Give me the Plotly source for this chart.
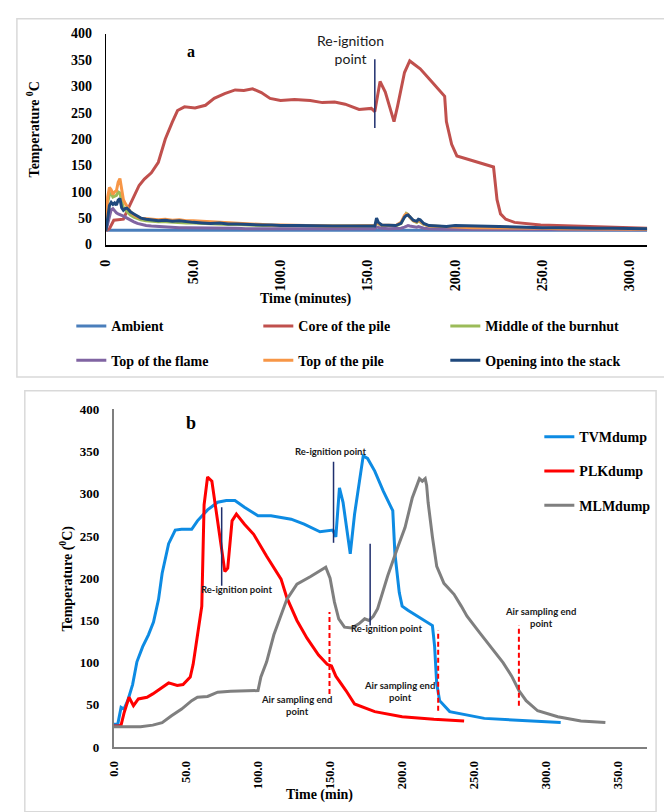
import plotly.graph_objects as go

W, H = 664, 812

# ---------------- Panel a: burn hut thermocouples ----------------
t_core = [0, 2, 4.5, 10, 13, 16, 19, 22, 26, 30, 34, 38, 41, 45, 51, 57, 62, 68, 74, 79,
          84, 89, 94, 100, 108, 117, 124, 131, 137, 145, 152, 154, 157, 160, 165, 167, 171,
          174, 180, 186, 194, 195, 198, 201, 211, 222, 224, 226, 229, 234, 249, 277, 310]
temp_core = [26, 30, 46, 48, 70, 92, 112, 124, 136, 156, 200, 232, 254, 261, 259, 264, 277,
             286, 293, 292, 295, 288, 277, 273, 275, 273, 269, 270, 266, 256, 258, 252, 309,
             289, 233, 262, 326, 348, 333, 311, 281, 233, 190, 168, 158, 147, 85, 58, 48, 42,
             37, 34, 31]

t_ambient = [0, 50, 100, 150, 200, 250, 310]
temp_ambient = [27, 27, 27, 27, 27, 27, 27]

t_sensor = [0, 1, 2, 3, 4, 5, 6, 7, 8, 9, 10, 11, 12, 13, 14,
            16, 18, 20, 23, 26, 30, 34, 38, 42, 46, 50,
            55, 60, 65, 70, 75, 80, 85, 90, 95, 100,
            110, 120, 130, 140, 150,
            153, 154, 155, 156, 158, 162, 166, 169,
            171, 172, 173, 174, 176, 178, 179, 180, 182, 185,
            190, 195, 200, 210, 220, 230, 240, 250, 260, 270, 280, 290, 300, 310]

temp_middle = [26, 80, 95, 97, 90, 92, 93, 100, 98, 82, 70, 66, 62, 60, 56,
               52, 49, 47, 45, 44, 43, 43, 42, 42, 41, 41,
               40, 39, 39, 38, 38, 37, 37, 36, 36, 35,
               35, 35, 34, 34, 34,
               34, 35, 42, 39, 36, 35, 35, 40,
               54, 59, 57, 52, 45, 42, 45, 43, 38, 35,
               34, 33, 33, 32, 32, 31, 31, 30, 30, 30, 30, 29, 29, 29]

temp_flame = [26, 40, 58, 66, 68, 63, 60, 58, 57, 55, 54, 52, 50, 48, 46,
              43, 40, 38, 36, 35, 34, 33, 33, 32, 32, 32,
              31, 31, 31, 31, 31, 30, 30, 30, 30, 30,
              30, 30, 30, 30, 30,
              30, 30, 33, 32, 31, 30, 30, 31,
              33, 35, 36, 35, 34, 33, 34, 33, 31, 30,
              29, 29, 29, 29, 29, 28, 28, 28, 28, 28, 28, 28, 28, 28]

temp_pile_top = [26, 90, 108, 104, 95, 100, 102, 118, 125, 100, 85, 78, 72, 68, 62,
                 56, 52, 50, 49, 48, 47, 48, 46, 47, 45, 45,
                 44, 43, 42, 41, 40, 40, 39, 38, 37, 37,
                 36, 36, 35, 35, 35,
                 35, 36, 44, 40, 37, 36, 36, 42,
                 55, 58, 57, 52, 45, 43, 46, 44, 39, 35,
                 34, 33, 33, 32, 32, 31, 31, 31, 30, 30, 30, 30, 29, 29]

temp_stack = [26, 55, 74, 80, 76, 79, 75, 84, 87, 70, 65, 68, 69, 66, 62,
              58, 54, 50, 48, 47, 45, 46, 44, 45, 43, 42,
              41, 40, 41, 39, 39, 38, 38, 37, 37, 36,
              36, 35, 35, 35, 34,
              34, 35, 50, 42, 37, 36, 36, 40,
              52, 55, 56, 53, 46, 44, 48, 47, 40, 36,
              35, 34, 36, 35, 34, 33, 33, 32, 32, 31, 31, 31, 30, 30]

reignition_a = 154          # minutes
x_ticks_a = [0, 50, 100, 150, 200, 250, 300]
x_ticktext_a = ["0", "50.0", "100.0", "150.0", "200.0", "250.0", "300.0"]

# ---------------- Panel b: three dump sites ----------------
t_tvm = [0, 2.7, 5, 7, 9.6, 13, 16, 20, 24, 27.5, 31, 33.5, 38, 42.6, 47, 54, 58, 65, 72,
         78, 84, 90.6, 100, 109, 123, 132, 143, 152, 154, 156.5, 159, 164, 167, 173, 176,
         181, 187, 193.5, 195, 198, 200, 204, 221, 222.5, 224, 226, 233, 257, 310]
temp_tvm = [27, 27, 47, 45, 55, 74, 101, 119, 133, 148, 175, 206, 241, 257, 258, 258, 268,
            281, 290, 292, 292, 284, 274, 274, 270, 264, 255, 257, 249, 307, 290, 229, 276,
            345, 342, 327, 303, 280, 229, 183, 167, 162, 144, 120, 75, 55, 42, 34, 29]

t_plk = [0, 3.4, 5, 7, 10.5, 13.6, 17, 23, 27, 33.4, 38, 44, 48, 53, 55, 57, 58, 61, 62.6,
         65, 68, 71, 74.6, 77, 79, 82, 85, 90.6, 97, 106, 116, 120, 127, 134, 142, 148, 151,
         154, 161, 167, 181, 200, 222, 243]
temp_plk = [25, 25, 26, 40, 59, 49, 57, 59, 63, 71, 76, 73, 74, 83, 98, 121, 133, 167, 287,
            320, 315, 280, 234, 208, 212, 268, 276, 264, 252, 226, 199, 177, 150, 129, 109,
            98, 96, 84, 67, 51, 42, 36, 33, 31]

t_mlm = [0, 18.5, 27, 33.5, 40, 47, 54, 58, 65, 72, 81, 93, 100, 102, 106, 111, 116, 120,
         127, 136.5, 147, 150, 153, 156, 160, 165, 170, 174, 177, 180, 183, 186, 190, 197,
         202, 207, 210, 212, 214, 216, 217, 218, 221, 224, 229, 236, 241, 245, 254, 264,
         270, 276, 281, 286, 294, 308, 324, 341]
temp_mlm = [24, 24, 26, 29, 37, 45, 55, 59, 60, 65, 66, 67, 67, 83, 101, 133, 156, 175,
            193, 202, 213, 200, 172, 152, 142, 141, 146, 152, 150, 155, 164, 180, 203, 237,
            260, 295, 308, 318, 315, 318, 310, 290, 249, 214, 194, 181, 167, 155, 135, 113,
            100, 84, 67, 55, 43, 36, 31, 29]

# re-ignition markers: (time, lower temp, upper temp)
reignition_b = [(74.8, 191, 284), (152.4, 242, 338), (177.8, 144, 241)]
reignition_b_labels = [(85, 187), (150, 350), (189, 140)]
# end of air sampling: (time, lower temp, upper temp)
sampling_end_b = [(149.6, 63, 160), (225, 43, 138), (281, 49, 144)]
sampling_end_labels = [(127, 49), (198, 66), (296, 153)]

x_ticks_b = [0, 50, 100, 150, 200, 250, 300, 350]
x_ticktext_b = ["0.0", "50.0", "100.0", "150.0", "200.0", "250.0", "300.0", "350.0"]
y_ticks = [0, 50, 100, 150, 200, 250, 300, 350, 400]


def px(xp):
    return xp / W


def py(yp):
    return 1 - yp / H


SERIF = "Liberation Serif"
SANS = "Lato"


def bold_serif(s):
    return dict(family=SERIF, size=s, color="black", weight="bold")


legend_font = bold_serif(14)

fig = go.Figure()

series_a = [
    ("Ambient", t_ambient, temp_ambient, "#4A7EBB", "legend"),
    ("Core of the pile", t_core, temp_core, "#C0504D", "legend"),
    ("Middle of the burnhut", t_sensor, temp_middle, "#9BBB59", "legend"),
    ("Top of the flame", t_sensor, temp_flame, "#8064A2", "legend3"),
    ("Top of the pile", t_sensor, temp_pile_top, "#F79646", "legend3"),
    ("Opening into the stack", t_sensor, temp_stack, "#1F497D", "legend3"),
]
for name, tx, ty, col, leg in series_a:
    fig.add_trace(go.Scatter(x=tx, y=ty, name=name, mode="lines",
                             line=dict(color=col, width=3), legend=leg,
                             xaxis="x", yaxis="y"))

series_b = [
    ("TVMdump", t_tvm, temp_tvm, "#0D8BE3"),
    ("PLKdump", t_plk, temp_plk, "#FF0000"),
    ("MLMdump", t_mlm, temp_mlm, "#7F7F7F"),
]
for name, tx, ty, col in series_b:
    fig.add_trace(go.Scatter(x=tx, y=ty, name=name, mode="lines",
                             line=dict(color=col, width=3), legend="legend2",
                             legendgroup=name, xaxis="x2", yaxis="y2"))

shapes = [
    # panel frames
    dict(type="rect", xref="paper", yref="paper", x0=px(10), x1=px(670), y0=py(377), y1=py(12),
         line=dict(color="#D9D9D9", width=1.5), layer="below"),
    dict(type="rect", xref="paper", yref="paper", x0=px(18), x1=px(656), y0=py(820), y1=py(391),
         line=dict(color="#D9D9D9", width=1.5), layer="below"),
    # panel a re-ignition marker
    dict(type="line", xref="x", yref="y", x0=reignition_a, x1=reignition_a, y0=221, y1=351,
         line=dict(color="#1F2F6E", width=1.5)),
]
for tt, lo, hi in reignition_b:
    shapes.append(dict(type="line", xref="x2", yref="y2", x0=tt, x1=tt, y0=lo, y1=hi,
                       line=dict(color="#1F2F6E", width=1.5)))
for tt, lo, hi in sampling_end_b:
    shapes.append(dict(type="line", xref="x2", yref="y2", x0=tt, x1=tt, y0=lo, y1=hi,
                       line=dict(color="#FF0000", width=2, dash="5px,3px")))

ann = []


def paper_text(text, xp, yp, font, angle=0):
    ann.append(dict(text=text, xref="paper", yref="paper", x=px(xp), y=py(yp),
                    xanchor="center", yanchor="middle", showarrow=False,
                    textangle=angle, font=font))


paper_text("a", 186, 45, bold_serif(16))
paper_text("Re-ignition<br>point", 347, 43, dict(family=SANS, size=14, color="#1a1a1a"))
paper_text("Temperature <sup>0</sup>C", 26, 125, bold_serif(14), -90)
paper_text("Time (minutes)", 302, 297, bold_serif(14))

paper_text("b", 186, 424, bold_serif(18))
paper_text("Temperature (<sup>0</sup>C)", 60, 582, bold_serif(14), -90)
paper_text("Time (min)", 316, 803, bold_serif(14))

small_bold = dict(family=SANS, size=9.5, color="#1a1a1a", weight="bold")
for xx, yy in reignition_b_labels:
    ann.append(dict(text="Re-ignition point", xref="x2", yref="y2", x=xx, y=yy,
                    showarrow=False, font=small_bold))
for xx, yy in sampling_end_labels:
    ann.append(dict(text="Air sampling end<br>point", xref="x2", yref="y2", x=xx, y=yy,
                    showarrow=False, font=small_bold))

axis_common = dict(showgrid=False, zeroline=False, showline=True, ticks="", fixedrange=True)

fig.update_layout(
    width=W, height=H,
    margin=dict(l=0, r=0, t=0, b=0),
    paper_bgcolor="white", plot_bgcolor="rgba(0,0,0,0)",
    showlegend=True,
    xaxis=dict(domain=[px(100), px(647)], range=[0, 310], tickvals=x_ticks_a,
               ticktext=x_ticktext_a, tickangle=-90, linecolor="black", linewidth=1.5,
               anchor="y", ticklabelstandoff=8, tickfont=bold_serif(14), **axis_common),
    yaxis=dict(domain=[py(242), py(27)], range=[0, 400], tickvals=y_ticks,
               linecolor="black", linewidth=1.2, anchor="x", ticklabelstandoff=10,
               tickfont=bold_serif(14), **axis_common),
    xaxis2=dict(domain=[px(108), px(647)], range=[0, 370], tickvals=x_ticks_b,
                ticktext=x_ticktext_b, tickangle=-90, linecolor="#7F7F7F", linewidth=2,
                anchor="y2", ticklabelstandoff=7, tickfont=bold_serif(12.5), **axis_common),
    yaxis2=dict(domain=[py(754), py(410)], range=[0, 400], tickvals=y_ticks,
                linecolor="#7F7F7F", linewidth=2, anchor="x2", ticklabelstandoff=10,
                tickfont=bold_serif(13), **axis_common),
    legend=dict(orientation="h", x=px(65), y=py(309), xanchor="left", yanchor="top",
                entrywidth=142, font=legend_font, bgcolor="rgba(0,0,0,0)", itemwidth=30),
    legend3=dict(orientation="h", x=px(65), y=py(344), xanchor="left", yanchor="top",
                 entrywidth=142, font=legend_font, bgcolor="rgba(0,0,0,0)", itemwidth=30),
    legend2=dict(orientation="v", x=px(538), y=py(422), xanchor="left", yanchor="top",
                 font=legend_font, bgcolor="rgba(0,0,0,0)", itemwidth=30,
                 tracegroupgap=13),
    shapes=shapes,
    annotations=ann,
)

fig.write_html("out.html")
